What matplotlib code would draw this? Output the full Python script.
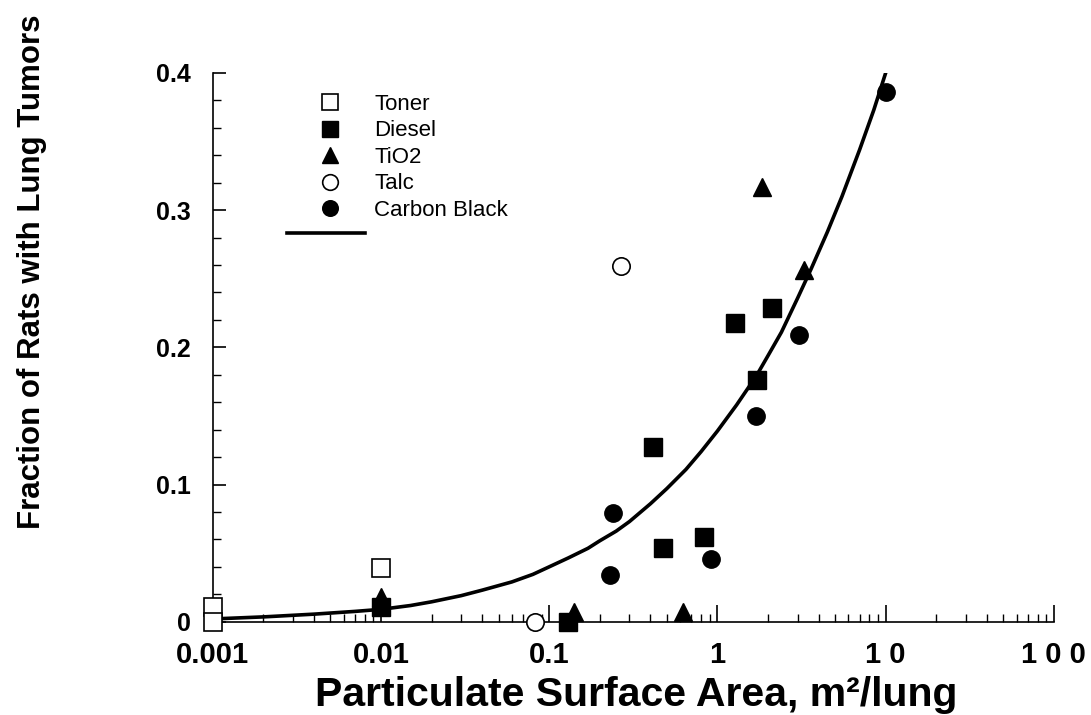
import numpy as np
import matplotlib
matplotlib.use('Agg')
import matplotlib.pyplot as plt
from matplotlib.ticker import FixedLocator, NullFormatter, LogLocator

plt.rcParams['font.family'] = ['Liberation Sans', 'DejaVu Sans']

# surface area (m^2/lung) vs fraction of rats with tumors
toner_x = [0.001, 0.001, 0.01]
toner_y = [0.011, 0.0, 0.039]
diesel_x = [0.01, 0.129, 0.415, 0.472, 0.834, 1.28, 1.73, 2.10]
diesel_y = [0.011, 0.0, 0.127, 0.054, 0.062, 0.218, 0.176, 0.229]
tio2_x = [0.01, 0.14, 0.62, 1.83, 3.27]
tio2_y = [0.018, 0.007, 0.007, 0.317, 0.256]
talc_x = [0.082, 0.266]
talc_y = [0.0, 0.259]
cb_x = [0.229, 0.238, 0.91, 1.69, 3.06, 10.1]
cb_y = [0.034, 0.079, 0.046, 0.150, 0.209, 0.386]

# fitted curve, read along its length
fit_x = [0.001, 0.002, 0.004, 0.007, 0.01, 0.015, 0.02, 0.03, 0.04, 0.06,
         0.08, 0.1, 0.13, 0.17, 0.2, 0.25, 0.3, 0.4, 0.5, 0.65, 0.8, 1.0,
         1.3, 1.7, 2.0, 2.4, 3.0, 3.6, 4.5, 5.5, 7.0, 8.5, 10.0]
fit_y = [0.002, 0.0035, 0.0055, 0.0075, 0.009, 0.0118, 0.0145, 0.019, 0.023,
         0.029, 0.0345, 0.040, 0.0465, 0.0535, 0.059, 0.066, 0.073, 0.086,
         0.097, 0.111, 0.124, 0.139, 0.158, 0.179, 0.194, 0.211, 0.236, 0.257,
         0.284, 0.310, 0.344, 0.373, 0.400]

xticks = [0.001, 0.01, 0.1, 1, 10, 100]
xticklabels = ['0.001', '0.01', '0.1', '1', '1 0', '1 0 0']
yticks = [0, 0.1, 0.2, 0.3, 0.4]
yticklabels = ['0', '0.1', '0.2', '0.3', '0.4']

fig = plt.figure(figsize=(10.91, 7.15), dpi=100)
ax = fig.add_axes([0.195, 0.1305, 0.771, 0.7675])

ms = 12.5
ax.plot(fit_x, fit_y, color='black', lw=2.6, zorder=2)
ax.plot(toner_x, toner_y, 's', ms=ms, mfc='white', mec='black', mew=1.2,
        label='Toner', clip_on=False, zorder=3)
ax.plot(diesel_x, diesel_y, 's', ms=ms, color='black', label='Diesel',
        clip_on=False, zorder=3)
ax.plot(tio2_x, tio2_y, '^', ms=ms, color='black', label='TiO2',
        clip_on=False, zorder=3)
ax.plot(talc_x, talc_y, 'o', ms=ms, mfc='white', mec='black', mew=1.2,
        label='Talc', clip_on=False, zorder=3)
ax.plot(cb_x, cb_y, 'o', ms=ms, color='black', label='Carbon Black',
        clip_on=False, zorder=3)

ax.set_xscale('log')
ax.set_xlim(0.001, 100)
ax.set_ylim(0, 0.4)

ax.spines['top'].set_visible(False)
ax.spines['right'].set_visible(False)
ax.spines['left'].set_linewidth(1.2)
ax.spines['bottom'].set_linewidth(1.2)

ax.xaxis.set_major_locator(FixedLocator(xticks))
ax.set_xticklabels(xticklabels, fontsize=21, fontweight='bold')
ax.xaxis.set_minor_locator(LogLocator(base=10, subs=np.arange(2, 10)))
ax.xaxis.set_minor_formatter(NullFormatter())
ax.yaxis.set_major_locator(FixedLocator(yticks))
ax.set_yticklabels(yticklabels, fontsize=18, fontweight='bold')
ax.yaxis.set_minor_locator(FixedLocator(np.arange(0, 0.41, 0.02)))

ax.tick_params(axis='x', which='major', direction='in', length=12, width=1.2, pad=14)
ax.tick_params(axis='x', which='minor', direction='in', length=6, width=1)
ax.tick_params(axis='y', which='major', direction='in', length=9, width=1.2, pad=16)
ax.tick_params(axis='y', which='minor', direction='in', length=6, width=1)

leg = ax.legend(loc='upper left', bbox_to_anchor=(0.126, 0.962), frameon=False,
                fontsize=16, handlelength=1.0, handletextpad=1.5,
                labelspacing=0.25, borderpad=0, borderaxespad=0,
                markerscale=0.9)
# line sample under the legend entries
ax.plot([0.088, 0.181], [0.708, 0.708], transform=ax.transAxes, color='black',
        lw=2.6, clip_on=False)

fig.text(0.029, 0.62, 'Fraction of Rats with Lung Tumors', rotation=90,
         ha='center', va='center', fontsize=22.5, fontweight='bold')
fig.text(0.583, 0.012, 'Particulate Surface Area, m\u00b2/lung', ha='center',
         va='baseline', fontsize=29.5, fontweight='bold')

fig.savefig('out.png', dpi=100)
